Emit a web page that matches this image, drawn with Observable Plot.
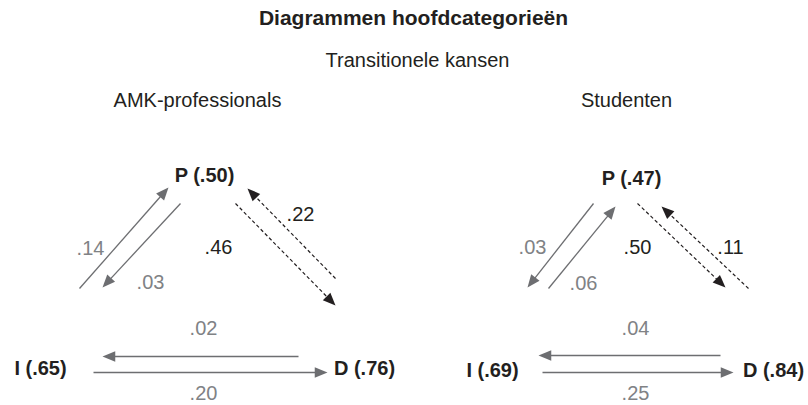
<!DOCTYPE html>
<html>
<head>
<meta charset="utf-8">
<script src="https://cdn.jsdelivr.net/npm/d3@7"></script>
<script src="https://cdn.jsdelivr.net/npm/@observablehq/plot@0.6"></script>
<style>
  html, body { margin: 0; padding: 0; background: #fff; }
  #chart svg { display: block; }
</style>
</head>
<body>
<div id="chart"></div>
<script>
// ---------- data ----------
const title = "Diagrammen hoofdcategorieën";
const subtitle = "Transitionele kansen";
const groups = ["AMK-professionals", "Studenten"];
const states = ["P", "I", "D"];
const amkStateProbs = [0.50, 0.65, 0.76];
const studentStateProbs = [0.47, 0.69, 0.84];
const transFrom = ["I", "P", "P", "D", "D", "I"];
const transTo   = ["P", "I", "D", "P", "I", "D"];
const amkTransProbs = [0.14, 0.03, 0.46, 0.22, 0.02, 0.20];
const studentTransProbs = [0.06, 0.03, 0.50, 0.11, 0.04, 0.25];

// ---------- layout (diagram geometry, in canvas units) ----------
const layout = {
  title: [413, 18],
  subtitle: [417, 60],
  panels: [
    {
      group: [197, 100],
      nodes: { P: [204, 175], I: [40, 368], D: [364, 368] },
      edges: {
        "I-P": { from: [79, 288],  to: [168, 187], label: [90, 248] },
        "P-I": { from: [180, 203], to: [102, 287], label: [150, 282] },
        "P-D": { from: [235, 203], to: [335, 305], label: [218, 247] },
        "D-P": { from: [335, 278], to: [247, 188], label: [300, 214] },
        "D-I": { from: [298, 356], to: [102, 356], label: [203, 328] },
        "I-D": { from: [93, 372],  to: [327, 372], label: [203, 393] }
      }
    },
    {
      group: [626, 100],
      nodes: { P: [631, 178], I: [492, 370], D: [773, 370] },
      edges: {
        "I-P": { from: [548, 288], to: [615, 206], label: [583, 283] },
        "P-I": { from: [593, 203], to: [527, 287], label: [532, 247] },
        "P-D": { from: [637, 203], to: [725, 287], label: [637, 247] },
        "D-P": { from: [748, 288], to: [661, 206], label: [730, 247] },
        "D-I": { from: [720, 355], to: [538, 355], label: [635, 328] },
        "I-D": { from: [542, 372], to: [733, 372], label: [635, 393] }
      }
    }
  ]
};

// ---------- styles ----------
const FONT = "'Liberation Sans', Arial, Helvetica, sans-serif";
const GREY_LINE = "#6d6e71";
const GREY_TEXT = "#808285";
const BLACK = "#231f20";
const HEAD_R = 5.3;

const fmt = v => d3.format(".2f")(v).replace(/^0/, "");

// ---------- build tables ----------
const stateProbs = [amkStateProbs, studentStateProbs];
const transProbs = [amkTransProbs, studentTransProbs];

const nodeRows = [];
const edgeRows = [];
groups.forEach((g, gi) => {
  const P = layout.panels[gi];
  states.forEach((s, si) => {
    const [x, y] = P.nodes[s];
    nodeRows.push({ x, y, text: `${s} (${fmt(stateProbs[gi][si])})` });
  });
  transFrom.forEach((f, ti) => {
    const t = transTo[ti];
    const e = P.edges[`${f}-${t}`];
    const pd = (f === "P" && t === "D") || (f === "D" && t === "P");
    const [x1, y1] = e.from, [x2, y2] = e.to;
    const dx = x2 - x1, dy = y2 - y1, len = Math.hypot(dx, dy);
    const back = HEAD_R * 2.4 - 2;
    edgeRows.push({
      group: g, from: f, to: t, value: transProbs[gi][ti],
      x1, y1, x2, y2,
      lx2: x2 - dx / len * back, ly2: y2 - dy / len * back,
      angle: Math.atan2(dx, -dy) * 180 / Math.PI,
      lx: e.label[0], ly: e.label[1],
      dashed: pd,
      lineColor: pd ? BLACK : GREY_LINE,
      textColor: pd ? BLACK : GREY_TEXT
    });
  });
});

const headerRows = [
  { x: layout.title[0], y: layout.title[1], text: title, bold: true },
  { x: layout.subtitle[0], y: layout.subtitle[1], text: subtitle, bold: false },
  ...groups.map((g, i) => ({ x: layout.panels[i].group[0], y: layout.panels[i].group[1], text: g, bold: false }))
];

// arrowhead symbol: tip at origin, pointing up
const arrowHead = {
  draw(ctx, size) {
    const s = Math.sqrt(size / Math.PI);
    const L = s * 2.4, w = s * 2.0;
    ctx.moveTo(0, 0);
    ctx.lineTo(-w / 2, L);
    ctx.lineTo(w / 2, L);
    ctx.closePath();
  }
};

const solid = edgeRows.filter(d => !d.dashed);
const dashed = edgeRows.filter(d => d.dashed);

const chart = Plot.plot({
  width: 808,
  height: 405,
  margin: 0,
  style: { fontFamily: FONT, background: "#fff" },
  x: { domain: [0, 808], range: [0, 808], axis: null },
  y: { domain: [0, 405], range: [0, 405], axis: null },
  marks: [
    Plot.link(solid, { x1: "x1", y1: "y1", x2: "lx2", y2: "ly2", stroke: GREY_LINE, strokeWidth: 1.3 }),
    Plot.link(dashed, { x1: "x1", y1: "y1", x2: "lx2", y2: "ly2", stroke: BLACK, strokeWidth: 1.2, strokeDasharray: "3.5,2.5" }),
    Plot.dot(edgeRows, { x: "x2", y: "y2", symbol: arrowHead, r: HEAD_R, rotate: "angle", fill: d => d.lineColor, stroke: "none" }),
    Plot.text(edgeRows, { x: "lx", y: "ly", text: d => fmt(d.value), fill: d => d.textColor, fontSize: 20 }),
    Plot.text(nodeRows, { x: "x", y: "y", text: "text", fill: BLACK, fontSize: 20, fontWeight: "bold" }),
    Plot.text(headerRows.filter(d => d.bold), { x: "x", y: "y", text: "text", fill: BLACK, fontSize: 21, fontWeight: "bold" }),
    Plot.text(headerRows.filter(d => !d.bold), { x: "x", y: "y", text: "text", fill: BLACK, fontSize: 20 })
  ]
});

document.getElementById("chart").appendChild(chart);
</script>
</body>
</html>
